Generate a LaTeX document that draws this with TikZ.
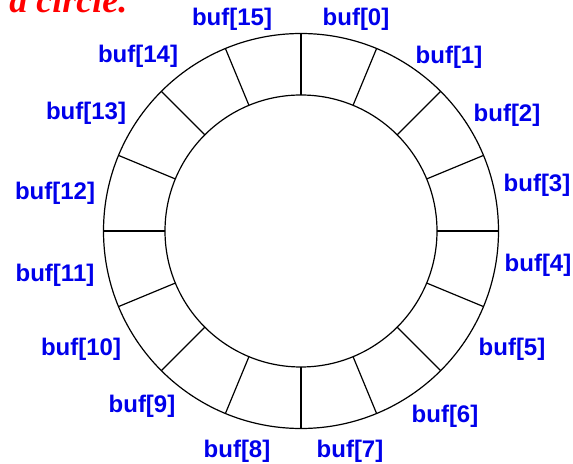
\documentclass[tikz,border=0pt]{standalone}
\usepackage{fontspec}
\setmainfont{Liberation Sans}
\newfontfamily\titlefont{Liberation Serif}
\usetikzlibrary{calc}
\definecolor{bufblue}{RGB}{0,0,235}
\definecolor{titlered}{RGB}{255,0,0}
\tikzset{
  buflabel/.style={text=bufblue, font=\fontsize{12}{14}\selectfont\bfseries, inner sep=0pt},
  ringline/.style={black, line width=0.6pt}
}
\begin{document}
\begin{tikzpicture}[x=0.5pt, y=-0.5pt]
  \useasboundingbox (0,0) rectangle (573,464);
  \clip (0,0) rectangle (573,464);

  % Titre coupe en haut a gauche
  \node[anchor=base west, inner sep=0pt, text=titlered,
        font=\titlefont\fontsize{18}{20}\selectfont\bfseries\itshape] (titre) at (9,13) {a circle.};

  % Centre de l'anneau
  \coordinate (c) at (301,231);

  % Cercles exterieur et interieur
  \draw[ringline] (c) circle[radius=197.5];
  \draw[ringline] (c) circle[radius=136];

  % Seize cases du tampon
  \foreach \k in {0,...,15}
    \draw[ringline] ($(c)+({90-22.5*\k}:136)$) -- ($(c)+({90-22.5*\k}:197.5)$);

  % Etiquettes buf[i]
  \foreach \i/\x/\y in {0/356/19, 1/449/57, 2/507/115, 3/537/185,
                        4/538/265, 5/512/349, 6/445/416, 7/350/451,
                        8/237/451, 9/142/406, 10/81/349, 11/55/275,
                        12/55/193, 13/86/113, 14/138/56, 15/232/19}
    \node[buflabel] (b\i) at (\x,\y) {buf[\i]};
\end{tikzpicture}
\end{document}
